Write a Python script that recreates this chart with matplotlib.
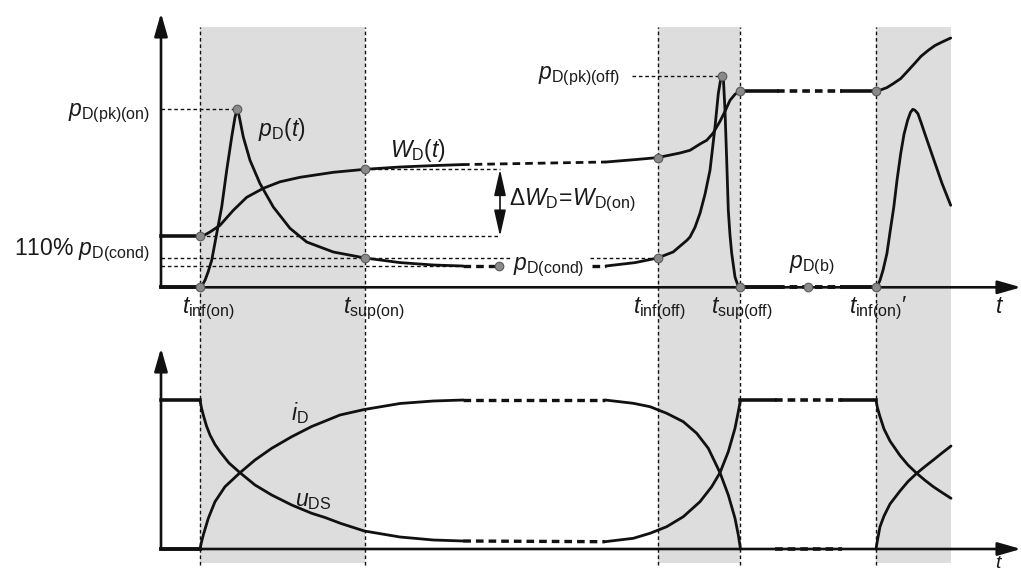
import matplotlib
matplotlib.use("Agg")
import matplotlib.pyplot as plt

plt.rcParams['font.family'] = ['Liberation Sans', 'DejaVu Sans']
plt.rcParams['mathtext.fontset'] = 'custom'
plt.rcParams['mathtext.rm'] = 'Liberation Sans'
plt.rcParams['mathtext.it'] = 'Liberation Sans:italic'
plt.rcParams['mathtext.bf'] = 'Liberation Sans:bold'
plt.rcParams['mathtext.sf'] = 'Liberation Sans'
plt.rcParams['lines.scale_dashes'] = False

# ---------------- data (schematic units: t along time axis, value above baseline) ----
# characteristic instants
t_events = [39, 204, 496.6, 579.3, 715]          # t_inf(on), t_sup(on), t_inf(off), t_sup(off), t_inf(on)'
shade_spans = [(39, 204), (496.6, 579.3), (715, 789.7)]
t_axis_end = 860

# --- upper panel: power p_D(t) and energy W_D(t)
pD_on_t = [39, 41.5, 44, 47, 50.7, 55.7, 60.7, 65.7, 70.7, 74, 76, 78, 82.3, 89, 99, 112.3, 129, 145.7, 172.3, 204, 239, 272.3, 302]
pD_on_v = [0, 2.5, 7, 15, 27, 53.7, 80.3, 117, 150.3, 170, 178, 172, 150.3, 127, 103.7, 80.3, 59, 45.3, 35.3, 29.3, 24.7, 22.3, 21.3]

WD_on_t = [0, 39, 44, 49, 59, 72.3, 85.7, 102.3, 119, 139, 172.3, 204, 239, 272.3, 301]
WD_on_v = [51, 51, 52.5, 55.3, 62, 77, 90, 99, 105.5, 110, 115, 118, 120.3, 121.7, 122.7]

WD_gap_t = [301, 445]
WD_gap_v = [122.7, 125.3]

WD_off_t = [445, 474.2, 496.6, 519, 529, 539.7, 545.7, 552, 559, 564, 569, 574, 579.3]
WD_off_v = [125.3, 127.7, 129.7, 134.3, 137, 143.7, 147, 154, 166, 176, 187, 193, 196.5]

WD_flat_t = [579.3, 615.7, 680.7, 715]
WD_flat_v = 196.5

WD_on2_t = [715, 720, 725.9, 732, 739.7, 746, 753.5, 760, 767.3, 774, 781.1, 789.7]
WD_on2_v = [196.5, 197.5, 199.7, 203.5, 208.7, 215.5, 223.7, 231, 237, 241.8, 245.3, 249.3]

pD_cond_v = 21.3
pD_cond_gap_t = [(302, 338), (431, 445)]

pD_off_t = [445, 474.2, 496.6, 512.1, 525.9, 529, 534, 539, 544, 549, 554, 557.3, 559.5, 560.7, 562.3, 564, 565.7, 567.3, 569, 570.7, 574, 576.5, 579]
pD_off_v = [21.3, 24.7, 29.3, 35.3, 47, 50.3, 60, 74, 93, 117, 160.3, 193.7, 207, 211.3, 210.3, 177, 127, 77, 52, 34, 10.3, 3, 0]

pD_b_t = [579.3, 615.7, 680.7, 715]

pD_on2_t = [715, 717, 719, 722, 725.9, 729, 732.8, 736, 739.7, 743, 746.6, 749.5, 751.8, 754, 756.9, 760, 763.8, 770.7, 781.1, 789.7]
pD_on2_v = [0, 2.5, 7, 17, 33.7, 55, 80.3, 107, 133.7, 153, 167, 175, 178, 177, 173.7, 165, 153.7, 133.7, 103.7, 82]

marker_t = [39, 39, 76, 204, 204, 338, 496.6, 496.6, 560.7, 579.3, 579.3, 647.3, 715, 715]
marker_v = [0, 51, 178, 118, 29.3, 21.3, 129.7, 29.3, 211.3, 196.5, 0, 0, 196.5, 0]

# reference guide lines (t0, t1, level)
guides_h = [(0, 76, 178), (39, 339, 51), (204, 339, 118), (0, 349.7, 29.3),
            (429, 496.6, 29.3), (0, 302, 21.3), (470.7, 560.7, 211.3)]
dW_t = 339
dW_v = (51, 118)

# --- lower panel: current i_D and voltage u_DS
high_level = 148.7
iD_on_t = [39, 40.5, 42.3, 47.3, 54, 64, 79, 94, 110.7, 130.7, 150.7, 179, 203.3, 239, 272.3, 302.3]
iD_on_v = [0, 7, 14, 30.7, 47.3, 62.3, 76.3, 89, 100.7, 112.3, 122.5, 134, 139.5, 145.5, 148, 149]
uDS_on_t = [39, 40.5, 42.3, 45.5, 49, 54, 59, 68, 79, 94, 110.7, 130.7, 150.7, 164, 180, 203.3, 239, 272.3, 302.3]
uDS_on_v = [148.7, 141, 134, 123, 114, 104.5, 97.3, 86, 76.3, 64, 54, 44, 35.7, 31.5, 25.5, 18, 12, 9, 8]

iD_off_t = [444, 472.3, 489, 505.7, 522.3, 535.7, 547.3, 559, 567.3, 574, 577.3, 579.5]
iD_off_v = [149, 145.7, 142.3, 135.7, 127.3, 115.7, 100.7, 76.3, 54, 30.7, 14, 0]
uDS_off_t = [444, 472.3, 489, 505.7, 522.3, 539, 550.7, 559, 567.3, 574, 577.3, 579.5]
uDS_off_v = [7.3, 10.7, 15.7, 22.3, 32.3, 47.3, 62.3, 76.3, 97.3, 120.7, 137.3, 149]

flat_b_t = [579.3, 614, 680.7, 715]

iD_on2_t = [715, 716.5, 719, 723, 729, 739, 747, 755.7, 764, 772.3, 781, 790]
iD_on2_v = [0, 9, 22.3, 33, 45, 58, 67.5, 75.7, 82.5, 89, 96, 103]
uDS_on2_t = [715, 716.5, 719, 723, 729, 739, 747, 755.7, 764, 772.3, 781, 790]
uDS_on2_v = [148.7, 141, 132.3, 120, 108, 93.5, 84, 75.7, 68.7, 62.3, 56.5, 50.7]

# ---------------- figure ----------------
W, H = 1021, 571
fig = plt.figure(figsize=(W / 100, H / 100), dpi=100)
X0 = 161
TOP0 = 287.3
BOT0 = 549

ax1 = fig.add_axes([0, 0, 1, 1])
ax1.set_xlim(-X0, W - X0)
ax1.set_ylim(TOP0 - H, TOP0)
ax1.axis('off')

ax2 = fig.add_axes([0, 0, 1, 1])
ax2.set_xlim(-X0, W - X0)
ax2.set_ylim(BOT0 - H, BOT0)
ax2.axis('off')
ax2.patch.set_alpha(0)

K = '#111111'
LW = 2.0
THIN = 1.0
guide_ls = (0, (2.6, 2.0))
thick_ls = (0, (5.5, 3.6))

shade_top = TOP0 - 27
shade_bot = TOP0 - 563
for a, b in shade_spans:
    ax1.fill_between([a, b], shade_bot, shade_top, color='#dddddd', lw=0, zorder=0)
for t in t_events:
    ax1.plot([t, t], [shade_bot - 2, shade_top], color=K, lw=THIN, ls=guide_ls, zorder=1)

# guides
for a, b, v in guides_h:
    ax1.plot([a, b], [v, v], color=K, lw=THIN, ls=guide_ls, zorder=1)

# axes arrows
def axis_arrow(ax, start, tip, lw=1.9):
    ax.annotate('', xy=tip, xytext=start,
                arrowprops=dict(arrowstyle='-|>,head_length=1.4,head_width=0.4',
                                lw=lw, color=K, shrinkA=0, shrinkB=0,
                                mutation_scale=10), zorder=3)

axis_arrow(ax1, (0, 0), (0, TOP0 - 13))
axis_arrow(ax1, (0, 0), (t_axis_end, 0))
axis_arrow(ax2, (0, 0), (0, BOT0 - 348))
axis_arrow(ax2, (0, 0), (t_axis_end, 0))

# delta W arrow
ax1.annotate('', xy=(dW_t, dW_v[1]), xytext=(dW_t, dW_v[0]),
             arrowprops=dict(arrowstyle='<|-|>,head_length=1.6,head_width=0.36',
                             lw=1.2, color=K, shrinkA=0, shrinkB=0, mutation_scale=10),
             zorder=3)

RJ = dict(solid_joinstyle='round', solid_capstyle='round')
# upper curves
ax1.plot(pD_on_t, pD_on_v, color=K, lw=LW, zorder=4, **RJ)
ax1.plot(WD_on_t[:2], WD_on_v[:2], color=K, lw=2.6, zorder=4)
ax1.plot(WD_on_t[1:], WD_on_v[1:], color=K, lw=LW, zorder=4, **RJ)
ax1.plot(WD_gap_t, WD_gap_v, color=K, lw=LW, ls=thick_ls, zorder=4)
ax1.plot(WD_off_t, WD_off_v, color=K, lw=LW, zorder=4, **RJ)
ax1.plot(WD_flat_t[:2], [WD_flat_v] * 2, color=K, lw=2.6, zorder=4)
ax1.plot(WD_flat_t[1:3], [WD_flat_v] * 2, color=K, lw=2.6, ls=thick_ls, zorder=4)
ax1.plot(WD_flat_t[2:], [WD_flat_v] * 2, color=K, lw=2.6, zorder=4)
ax1.plot(WD_on2_t, WD_on2_v, color=K, lw=LW, zorder=4, **RJ)
for a, b in pD_cond_gap_t:
    ax1.plot([a, b], [pD_cond_v] * 2, color=K, lw=2.4, ls=thick_ls, zorder=4)
ax1.plot(pD_off_t, pD_off_v, color=K, lw=LW, zorder=4, **RJ)
ax1.plot(pD_b_t[:2], [0, 0], color=K, lw=2.8, zorder=4)
ax1.plot(pD_b_t[1:3], [0, 0], color=K, lw=2.8, ls=thick_ls, zorder=4)
ax1.plot(pD_b_t[2:], [0, 0], color=K, lw=2.8, zorder=4)
ax1.plot(pD_on2_t, pD_on2_v, color=K, lw=LW, zorder=4, **RJ)
ax1.plot([0, 39], [0, 0], color=K, lw=2.8, zorder=4)

ax1.plot(marker_t, marker_v, ls='none', marker='o', ms=6.2, mfc='#8a8a8a',
         mec='#5a5a5a', mew=0.8, zorder=6)

# lower curves
ax2.plot([0, 39], [high_level] * 2, color=K, lw=2.6, zorder=4)
ax2.plot([0, 39], [0, 0], color=K, lw=2.8, zorder=4)
ax2.plot(iD_on_t, iD_on_v, color=K, lw=LW, zorder=4, **RJ)
ax2.plot(uDS_on_t, uDS_on_v, color=K, lw=LW, zorder=4, **RJ)
ax2.plot([iD_on_t[-1], iD_off_t[0]], [iD_on_v[-1], iD_off_v[0]], color=K, lw=2.4, ls=thick_ls, zorder=4)
ax2.plot([uDS_on_t[-1], uDS_off_t[0]], [uDS_on_v[-1], uDS_off_v[0]], color=K, lw=2.4, ls=thick_ls, zorder=4)
ax2.plot(iD_off_t, iD_off_v, color=K, lw=LW, zorder=4, **RJ)
ax2.plot(uDS_off_t, uDS_off_v, color=K, lw=LW, zorder=4, **RJ)
ax2.plot(flat_b_t[:2], [high_level] * 2, color=K, lw=2.6, zorder=4)
ax2.plot(flat_b_t[1:3], [high_level] * 2, color=K, lw=2.6, ls=thick_ls, zorder=4)
ax2.plot(flat_b_t[2:], [high_level] * 2, color=K, lw=2.6, zorder=4)
ax2.plot(flat_b_t[1:3], [0, 0], color=K, lw=2.6, ls=thick_ls, zorder=4)
ax2.plot(iD_on2_t, iD_on2_v, color=K, lw=LW, zorder=4, **RJ)
ax2.plot(uDS_on2_t, uDS_on2_v, color=K, lw=LW, zorder=4, **RJ)

# ---------------- labels ----------------
FS = 16.5
TC = '#1a1a1a'
def lab(ax, x, y, s, ha='left', va='center', fs=FS):
    ax.text(x, y, s, ha=ha, va=va, fontsize=fs, color=TC, zorder=7)

lab(ax1, -11, 174, r'$p_{\mathrm{D(pk)(on)}}$', ha='right')
lab(ax1, 97, 158, r'$p_{\mathrm{D}}(t)$')
lab(ax1, 229, 137, r'$W_{\mathrm{D}}(t)$')
lab(ax1, -11, 37, r'110% $p_{\mathrm{D(cond)}}$', ha='right')
lab(ax1, 21, -21, r'$t_{\mathrm{inf(on)}}$')
lab(ax1, 182, -21, r'$t_{\mathrm{sup(on)}}$')
lab(ax1, 348, 87, r'$\Delta W_{\mathrm{D}}\!=\!W_{\mathrm{D(on)}}$')
lab(ax1, 352, 20, r'$p_{\mathrm{D(cond)}}$')
lab(ax1, 459, 211, r'$p_{\mathrm{D(pk)(off)}}$', ha='right')
lab(ax1, 628, 22, r'$p_{\mathrm{D(b)}}$')
lab(ax1, 472, -21, r'$t_{\mathrm{inf(off)}}$')
lab(ax1, 550, -21, r'$t_{\mathrm{sup(off)}}$')
lab(ax1, 688, -21, r"$t_{\mathrm{inf(on)}}$′")
lab(ax1, 839, -19, r'$t$', ha='center')

lab(ax2, 130, 136, r'$i_{\mathrm{D}}$')
lab(ax2, 134, 49, r'$u_{\mathrm{DS}}$')
lab(ax2, 838, -6, r'$t$', ha='center', va='top', fs=14)

fig.savefig('out.png', dpi=100)
